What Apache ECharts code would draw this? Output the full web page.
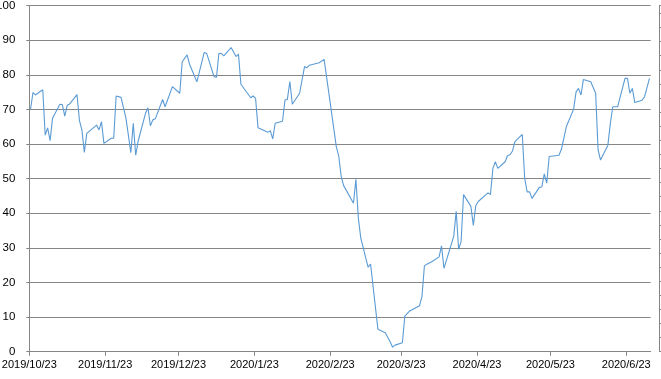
<!DOCTYPE html>
<html>
<head>
<meta charset="utf-8">
<script src="https://cdn.jsdelivr.net/npm/echarts@6/dist/echarts.min.js"></script>
<style>
html,body{margin:0;padding:0;background:#fff;}
#chart{width:661px;height:379px;}
</style>
</head>
<body>
<div id="chart"></div>
<script>
// ---- data ----
const dates = [
'2019-10-23','2019-10-24','2019-10-25','2019-10-28','2019-10-29','2019-10-30','2019-10-31','2019-11-01',
'2019-11-04','2019-11-05','2019-11-06','2019-11-07','2019-11-08','2019-11-11','2019-11-12','2019-11-13',
'2019-11-14','2019-11-15','2019-11-19','2019-11-20','2019-11-21','2019-11-22','2019-11-25','2019-11-26',
'2019-11-27','2019-11-29','2019-12-01','2019-12-02','2019-12-03','2019-12-04','2019-12-05','2019-12-06',
'2019-12-09','2019-12-10','2019-12-11','2019-12-12','2019-12-13','2019-12-16','2019-12-17','2019-12-20',
'2019-12-23','2019-12-24','2019-12-26','2019-12-27','2019-12-30','2020-01-02','2020-01-03','2020-01-06',
'2020-01-07','2020-01-08','2020-01-09','2020-01-10','2020-01-13','2020-01-15','2020-01-16','2020-01-17',
'2020-01-21','2020-01-22','2020-01-23','2020-01-24','2020-01-28','2020-01-29','2020-01-30','2020-01-31',
'2020-02-03','2020-02-04','2020-02-05','2020-02-06','2020-02-07','2020-02-10','2020-02-12','2020-02-13',
'2020-02-14','2020-02-18','2020-02-20','2020-02-21','2020-02-25','2020-02-26','2020-02-27','2020-02-28',
'2020-03-03','2020-03-04','2020-03-05','2020-03-06','2020-03-09','2020-03-10','2020-03-13','2020-03-16',
'2020-03-18','2020-03-19','2020-03-20','2020-03-23','2020-03-24','2020-03-26','2020-03-27','2020-03-30',
'2020-03-31','2020-04-01','2020-04-02','2020-04-04','2020-04-07','2020-04-08','2020-04-09','2020-04-13',
'2020-04-14','2020-04-15','2020-04-16','2020-04-17','2020-04-20','2020-04-21','2020-04-22','2020-04-23',
'2020-04-27','2020-04-28','2020-04-29','2020-04-30','2020-05-01','2020-05-04','2020-05-05','2020-05-06',
'2020-05-07','2020-05-08','2020-05-11','2020-05-12','2020-05-13','2020-05-14','2020-05-15','2020-05-18',
'2020-05-19','2020-05-20','2020-05-21','2020-05-22','2020-05-26','2020-05-27','2020-05-29','2020-06-01',
'2020-06-02','2020-06-03','2020-06-04','2020-06-05','2020-06-08','2020-06-10','2020-06-11','2020-06-12',
'2020-06-15','2020-06-16','2020-06-17','2020-06-19','2020-06-22','2020-06-23','2020-06-24','2020-06-25',
'2020-06-26','2020-06-29','2020-06-30','2020-07-02'
];
const values = [
70.0,74.9,74.2,75.7,62.6,64.7,61.0,67.5,
71.5,71.4,68.1,71.2,71.6,74.3,66.8,64.1,
57.6,63.1,65.5,64.1,66.5,60.2,61.7,61.7,
73.9,73.5,67.5,62.6,57.5,66.0,56.8,60.9,
68.9,70.5,65.3,67.0,67.3,72.9,70.8,76.6,
74.7,83.8,85.8,83.1,78.0,86.5,86.2,79.5,
79.3,86.2,86.2,85.5,87.9,85.3,86.0,77.3,
73.4,73.9,73.2,64.7,63.4,63.9,61.5,66.0,
66.6,72.7,73.0,78.1,71.5,74.7,82.4,82.1,
82.8,83.5,84.5,79.5,59.2,56.5,50.6,48.0,
42.9,49.8,38.6,32.8,24.4,25.3,6.5,5.5,
2.9,1.3,1.9,2.6,10.3,11.8,12.1,13.3,
15.9,24.8,25.3,26.0,27.4,30.6,24.1,33.4,
40.6,29.6,31.8,45.4,42.0,36.5,42.2,43.4,
45.9,45.4,53.0,54.9,53.0,54.9,56.7,56.9,
58.0,60.7,62.8,50.1,46.2,46.2,44.3,47.5,
47.6,51.4,48.7,56.4,56.8,58.5,65.0,70.1,
75.1,76.1,74.2,78.7,78.0,74.7,58.3,55.4,
59.7,66.0,70.8,70.8,79.0,79.0,74.7,76.1,
72.0,72.7,73.7,79.0
];
const xTickDates = ['2019-10-23','2019-11-23','2019-12-23','2020-01-23','2020-02-23','2020-03-23','2020-04-23','2020-05-23','2020-06-23'];
const xRange = ['2019-10-23','2020-07-03'];
const yMin = 0, yMax = 100, yStep = 10;

// ---- helpers: x is measured in days since the first axis date ----
const DAY = 86400000;
function utc(s) {
  const p = s.split('-').map(Number);
  return Date.UTC(p[0], p[1] - 1, p[2]);
}
const t0 = utc(xRange[0]);
function dayOf(s) { return Math.round((utc(s) - t0) / DAY); }
function fmt(dayOffset) {
  const d = new Date(t0 + Math.round(dayOffset) * DAY);
  return d.getUTCFullYear() + '/' + (d.getUTCMonth() + 1) + '/' + d.getUTCDate();
}
// each day occupies one slot; a point sits in the middle of its day
const seriesData = dates.map((d, i) => [dayOf(d) + 0.5, values[i]]);
const tickDays = xTickDates.map(dayOf);

const axisGrey = '#868686';
const font = 'Liberation Sans, Arial, sans-serif';

const chart = echarts.init(document.getElementById('chart'), null, {renderer: 'canvas'});
chart.setOption({
  animation: false,
  backgroundColor: '#ffffff',
  grid: {left: 29.3, right: 10.3, top: 5.7, bottom: 27.3, containLabel: false, outerBoundsMode: 'none'},
  xAxis: {
    type: 'value',
    min: 0,
    max: dayOf(xRange[1]),
    axisLine: {show: true, onZero: false, lineStyle: {color: axisGrey, width: 1}},
    axisTick: {show: true, customValues: tickDays, length: 4, lineStyle: {color: axisGrey}},
    axisLabel: {
      show: true, customValues: tickDays, formatter: v => fmt(v),
      fontSize: 11, fontFamily: font, color: '#000', margin: 8, hideOverlap: false
    },
    splitLine: {show: false}
  },
  yAxis: [{
    type: 'value',
    min: yMin, max: yMax, interval: yStep,
    axisLine: {show: true, lineStyle: {color: axisGrey, width: 1}},
    axisTick: {show: true, length: 3, lineStyle: {color: axisGrey}},
    axisLabel: {fontSize: 11.5, fontFamily: font, color: '#000', margin: 14},
    splitLine: {show: true, lineStyle: {color: axisGrey, width: 1}}
  }, {
    type: 'value',
    position: 'right',
    offset: 8.3,
    min: 0, max: 24.55, interval: 1,
    axisLine: {show: true, lineStyle: {color: axisGrey, width: 1}},
    axisTick: {show: true, length: 3, lineStyle: {color: axisGrey}},
    axisLabel: {show: false},
    splitLine: {show: false}
  }],
  series: [{
    type: 'line',
    data: seriesData,
    yAxisIndex: 0,
    showSymbol: false,
    symbol: 'none',
    smooth: false,
    lineStyle: {color: '#5B9BD5', width: 1.1},
    itemStyle: {color: '#5B9BD5'}
  }]
});
</script>
</body>
</html>
